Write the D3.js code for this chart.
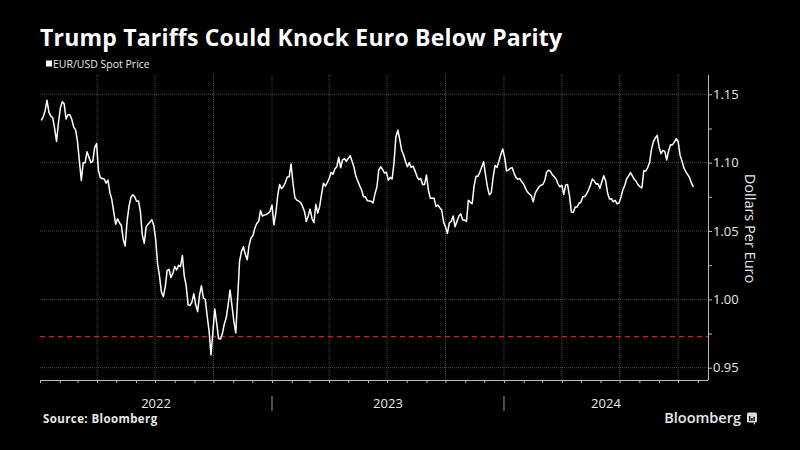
<!DOCTYPE html>
<html>
<head>
<meta charset="utf-8">
<script src="https://cdn.jsdelivr.net/npm/d3@7"></script>
<style>
  html, body { margin: 0; background: #000; }
  svg { display: block; font-family: "Open Sans", sans-serif; }
</style>
</head>
<body>
<svg id="chart" width="800" height="450"></svg>
<script>
  // EUR/USD spot, one reading every 3 calendar days from startDate
  const startDate = "2022-01-03";
  const stepDays = 3;
  const spotPrice = [
    1.131, 1.1334, 1.138, 1.1456, 1.137, 1.134, 1.133, 1.125, 1.1155, 1.129,
    1.140, 1.1445, 1.143, 1.132, 1.135, 1.135, 1.1317, 1.126, 1.124, 1.1155,
    1.101, 1.087, 1.100, 1.100, 1.108, 1.104, 1.100, 1.101, 1.111, 1.114,
    1.094, 1.089, 1.0884, 1.088, 1.085, 1.0872, 1.078, 1.073, 1.064, 1.055,
    1.059, 1.056, 1.054, 1.044, 1.039, 1.057, 1.068, 1.0745, 1.0765, 1.075,
    1.0718, 1.072, 1.064, 1.047, 1.041, 1.053, 1.055, 1.0565, 1.0583, 1.054,
    1.044, 1.026, 1.017, 1.0055, 1.002, 1.009, 1.021, 1.022, 1.016, 1.019,
    1.024, 1.0215, 1.025, 1.024, 1.032, 1.017, 1.010, 0.996, 0.9955, 0.998,
    1.004, 0.996, 0.991, 1.003, 1.010, 1.001, 1.000, 0.988, 0.977, 0.9593,
    0.976, 0.993, 0.9825, 0.9713, 0.971, 0.975, 0.982, 0.9865, 0.996, 1.0068,
    0.9955, 0.9839, 0.9755, 1.001, 1.028, 1.035, 1.0385, 1.033, 1.029, 1.0395,
    1.045, 1.0465, 1.052, 1.0555, 1.057, 1.065, 1.061, 1.0616, 1.062, 1.063,
    1.0645, 1.069, 1.0545, 1.063, 1.076, 1.084, 1.081, 1.0825, 1.0855, 1.0895,
    1.0896, 1.099, 1.085, 1.0745, 1.0726, 1.0718, 1.071, 1.068, 1.0645, 1.057,
    1.061, 1.066, 1.059, 1.056, 1.0695, 1.063, 1.068, 1.077, 1.085, 1.0828,
    1.0855, 1.0884, 1.093, 1.0915, 1.0955, 1.0969, 1.104, 1.0963, 1.102, 1.103,
    1.101, 1.103, 1.1052, 1.101, 1.0967, 1.090, 1.0866, 1.083, 1.080, 1.0751,
    1.075, 1.0722, 1.072, 1.0718, 1.0705, 1.0772, 1.082, 1.0945, 1.097, 1.095,
    1.0923, 1.093, 1.0872, 1.0892, 1.088, 1.100, 1.119, 1.1237, 1.117, 1.109,
    1.1058, 1.101, 1.097, 1.100, 1.0965, 1.0975, 1.094, 1.090, 1.0875, 1.0884,
    1.084, 1.084, 1.091, 1.080, 1.074, 1.074, 1.074, 1.068, 1.069, 1.067,
    1.0653, 1.0565, 1.053, 1.0482, 1.056, 1.057, 1.061, 1.0531, 1.057, 1.061,
    1.0625, 1.058, 1.058, 1.057, 1.0725, 1.071, 1.070, 1.083, 1.090, 1.090,
    1.093, 1.0969, 1.1006, 1.091, 1.082, 1.0765, 1.078, 1.0895, 1.098, 1.0965,
    1.101, 1.106, 1.110, 1.104, 1.094, 1.0945, 1.096, 1.0962, 1.092, 1.089,
    1.0878, 1.0884, 1.086, 1.0843, 1.081, 1.0785, 1.077, 1.0759, 1.0713, 1.0775,
    1.080, 1.0822, 1.0835, 1.084, 1.0866, 1.093, 1.0945, 1.0937, 1.0912, 1.0896,
    1.088, 1.0845, 1.0823, 1.0835, 1.0767, 1.0836, 1.084, 1.076, 1.064, 1.0635,
    1.0676, 1.0675, 1.0703, 1.071, 1.075, 1.0752, 1.0772, 1.080, 1.0837, 1.088,
    1.0866, 1.0843, 1.0845, 1.0812, 1.086, 1.0904, 1.0865, 1.0778, 1.0734, 1.0736,
    1.0714, 1.0724, 1.0698, 1.0705, 1.0745, 1.0802, 1.0833, 1.0882, 1.0901, 1.0927,
    1.0903, 1.0878, 1.0864, 1.0838, 1.0823, 1.0815, 1.094, 1.0938, 1.0962, 1.0999,
    1.1095, 1.1152, 1.1179, 1.120, 1.1115, 1.1066, 1.109, 1.1083, 1.102, 1.1085,
    1.1131, 1.113, 1.115, 1.1176, 1.1155, 1.1055, 1.1013, 1.0962, 1.0934, 1.0913,
    1.089, 1.085, 1.0823
  ];
  const yTicks = [0.95, 1.00, 1.05, 1.10, 1.15];
  const yearLabels = ["2022", "2023", "2024"];
  const parityLevel = 0.9727;
  const xDomain = ["2022-01-01", "2024-11-17"];

  const parse = d3.timeParse("%Y-%m-%d");
  const t0 = parse(startDate);
  const series = spotPrice.map((v, i) => ({ date: d3.timeDay.offset(t0, i * stepDays), value: v }));

  const svg = d3.select("#chart");
  const plotLeft = 40, plotRight = 708, plotTop = 75, plotBottom = 380;
  const textColor = "#e8e8e8";
  const gridColor = "#4a4a4a";

  const x = d3.scaleTime()
    .domain(xDomain.map(parse))
    .range([plotLeft, plotRight]);

  const y = d3.scaleLinear()
    .domain([0.95, 1.15])
    .range([367.7, 94.3]);

  svg.append("rect").attr("width", 800).attr("height", 450).attr("fill", "#000");

  // grid
  const quarters = d3.timeMonth.every(3).range(x.domain()[0], x.domain()[1]).filter(d => x(d) > plotLeft + 1);
  svg.append("g").selectAll("line")
    .data(quarters)
    .join("line")
    .attr("x1", d => x(d)).attr("x2", d => x(d))
    .attr("y1", plotTop).attr("y2", plotBottom)
    .attr("stroke", gridColor)
    .attr("stroke-width", 1)
    .attr("stroke-dasharray", "1,1");

  svg.append("g").selectAll("line")
    .data(yTicks)
    .join("line")
    .attr("x1", plotLeft).attr("x2", plotRight)
    .attr("y1", d => y(d)).attr("y2", d => y(d))
    .attr("stroke", gridColor)
    .attr("stroke-width", 1)
    .attr("stroke-dasharray", "1,1");

  // parity reference line
  svg.append("line")
    .attr("x1", plotLeft).attr("x2", plotRight)
    .attr("y1", y(parityLevel)).attr("y2", y(parityLevel))
    .attr("stroke", "#e3152b")
    .attr("stroke-width", 1.3)
    .attr("stroke-dasharray", "5,4");

  // bottom axis
  const xAxis = svg.append("g")
    .attr("transform", `translate(0,${plotBottom})`)
    .call(d3.axisBottom(x).ticks(d3.timeMonth.every(1)).tickSize(3).tickFormat(""));
  xAxis.select(".domain").attr("stroke", "#bbb").attr("d", `M${plotLeft},0.5H${plotRight}`);
  xAxis.selectAll(".tick line").attr("stroke", "#bbb");

  // right axis
  const yAxis = svg.append("g")
    .attr("transform", `translate(${plotRight},0)`)
    .call(d3.axisRight(y).tickValues(d3.range(0.95, 1.1501, 0.025)).tickSize(4).tickFormat(""));
  yAxis.select(".domain").attr("stroke", "#bbb").attr("d", `M0.5,${plotTop}V${plotBottom}`);
  yAxis.selectAll(".tick line").attr("stroke", "#bbb");

  svg.append("g").selectAll("text")
    .data(yTicks)
    .join("text")
    .attr("x", plotRight + 5)
    .attr("y", d => y(d))
    .attr("dy", "0.36em")
    .attr("fill", textColor)
    .attr("font-size", 13)
    .text(d => d3.format(".2f")(d));

  svg.append("text")
    .attr("transform", `translate(745,228.5) rotate(90)`)
    .attr("text-anchor", "middle")
    .attr("fill", textColor)
    .attr("font-size", 14.5)
    .text("Dollars Per Euro");

  // year labels and separators
  const years = yearLabels.map(s => {
    const a = d3.max([parse(s + "-01-01"), x.domain()[0]]);
    const b = d3.min([parse((+s + 1) + "-01-01"), x.domain()[1]]);
    return { label: s, start: parse(s + "-01-01"), mid: (x(a) + x(b)) / 2 };
  });
  svg.append("g").selectAll("text")
    .data(years)
    .join("text")
    .attr("x", d => d.mid)
    .attr("y", 408)
    .attr("text-anchor", "middle")
    .attr("fill", textColor)
    .attr("font-size", 13)
    .text(d => d.label);
  svg.append("g").selectAll("line")
    .data(years.slice(1))
    .join("line")
    .attr("x1", d => x(d.start)).attr("x2", d => x(d.start))
    .attr("y1", 396).attr("y2", 411)
    .attr("stroke", "#999");

  // price line
  const line = d3.line().x(d => x(d.date)).y(d => y(d.value));
  svg.append("path")
    .datum(series)
    .attr("fill", "none")
    .attr("stroke", "#fff")
    .attr("stroke-width", 1.5)
    .attr("stroke-linejoin", "round")
    .attr("d", line);

  // title & legend
  svg.append("text")
    .attr("x", 40).attr("y", 46)
    .attr("fill", "#fff")
    .attr("font-size", 23)
    .attr("font-weight", 700)
    .attr("letter-spacing", 0.2)
    .text("Trump Tariffs Could Knock Euro Below Parity");

  svg.append("rect")
    .attr("x", 46).attr("y", 60.5).attr("width", 6).attr("height", 6)
    .attr("fill", "#fff");
  svg.append("text")
    .attr("x", 53).attr("y", 68)
    .attr("fill", textColor)
    .attr("font-size", 10.5)
    .text("EUR/USD Spot Price");

  // footer
  svg.append("text")
    .attr("x", 43).attr("y", 423)
    .attr("fill", textColor)
    .attr("font-size", 11.5)
    .attr("font-weight", 700)
    .attr("letter-spacing", 0.4)
    .text("Source: Bloomberg");

  svg.append("text")
    .attr("x", 741).attr("y", 423)
    .attr("text-anchor", "end")
    .attr("fill", textColor)
    .attr("font-size", 14.5)
    .attr("font-weight", 600)
    .text("Bloomberg");

  const logo = svg.append("g").attr("transform", "translate(747,412.5)");
  logo.append("rect").attr("width", 10).attr("height", 10).attr("rx", 1.5).attr("fill", "#ddd");
  logo.append("path").attr("d", "M6,10 L8,12.5 L8,10 Z").attr("fill", "#ddd");
  logo.selectAll(".bar")
    .data([[2, 5], [4.2, 3], [6.4, 4.2]])
    .join("rect")
    .attr("x", d => d[0]).attr("y", d => 8.5 - d[1])
    .attr("width", 1.4).attr("height", d => d[1])
    .attr("fill", "#000");
</script>
</body>
</html>
